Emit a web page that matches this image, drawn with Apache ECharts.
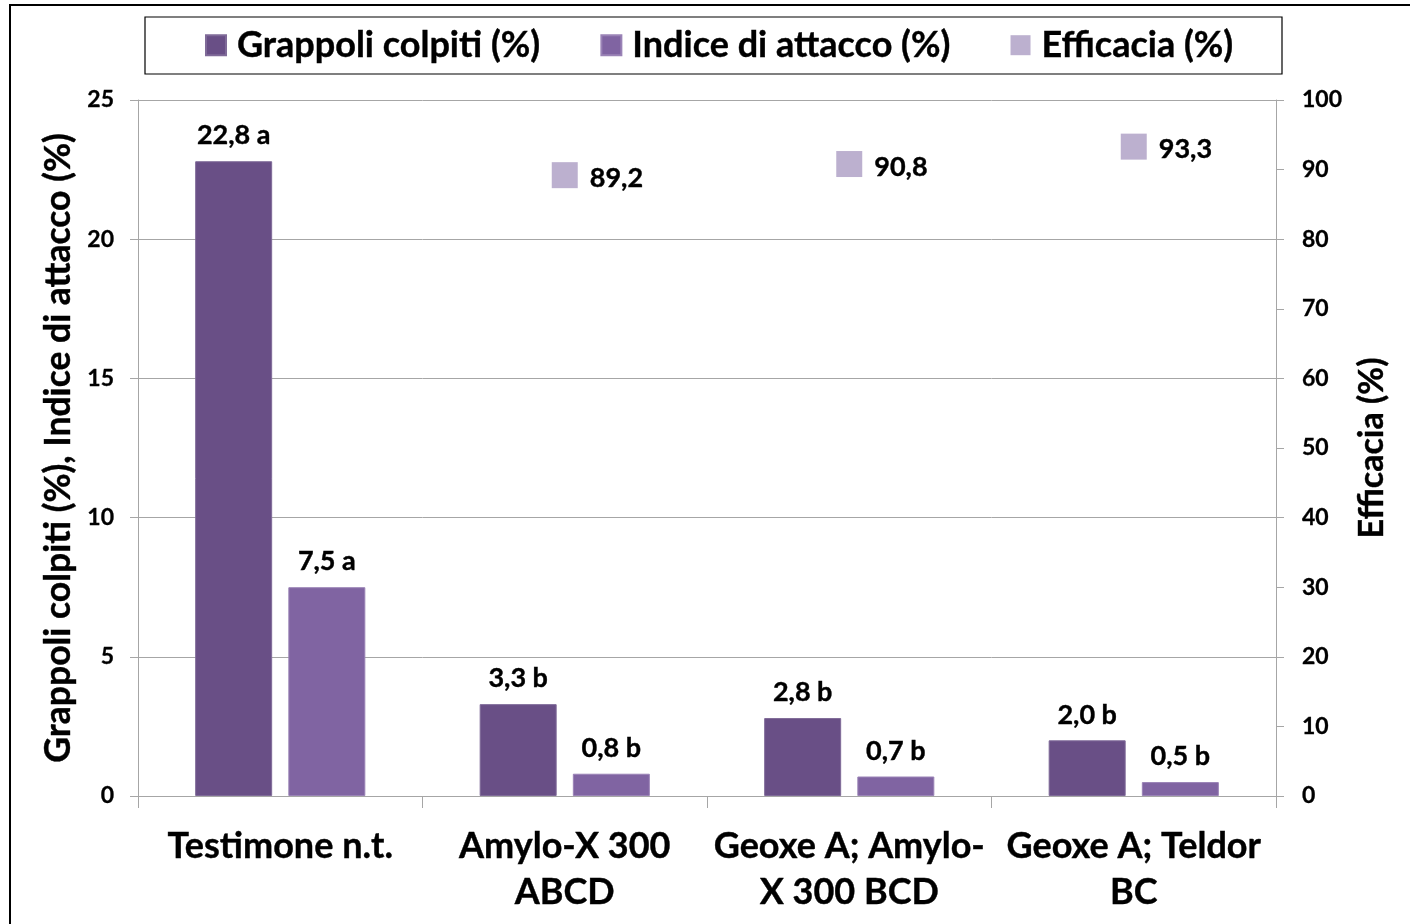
<!DOCTYPE html>
<html>
<head>
<meta charset="utf-8">
<script src="https://cdn.jsdelivr.net/npm/echarts@6/dist/echarts.min.js"></script>
<style>html,body{margin:0;padding:0;background:#fff;}#c{width:1410px;height:924px;}</style>
</head>
<body>
<div id="c"></div>
<script>
const categories = ['Testimone n.t.', 'Amylo-X 300\nABCD', 'Geoxe A; Amylo-\nX 300 BCD', 'Geoxe A; Teldor\nBC'];
const grappoli = [22.8, 3.3, 2.8, 2.0];
const grappoliLabels = ['22,8 a', '3,3 b', '2,8 b', '2,0 b'];
const indice = [7.5, 0.8, 0.7, 0.5];
const indiceLabels = ['7,5 a', '0,8 b', '0,7 b', '0,5 b'];
const efficacia = [null, 89.2, 90.8, 93.3];
const efficaciaLabels = ['', '89,2', '90,8', '93,3'];
const leftTicks = {min: 0, max: 25, interval: 5};
const rightTicks = {min: 0, max: 100, interval: 10};

const FONT = 'Lato';
const chart = echarts.init(document.getElementById('c'), null, {renderer: 'canvas'});
const grey = '#a6a6a6';
const bold = {fontFamily: FONT, fontWeight: 'bold', color: '#000', textBorderColor: '#000', textBorderWidth: 0.4};
chart.setOption({
  animation: false,
  backgroundColor: '#fff',
  textStyle: {fontFamily: FONT},
  graphic: [
    {type: 'rect', shape: {x: 10, y: 5, width: 1430, height: 950}, style: {fill: 'none', stroke: '#000', lineWidth: 2}, z: -1},
    {type: 'rect', shape: {x: 145, y: 17, width: 1137, height: 57}, style: {fill: 'none', stroke: '#000', lineWidth: 1.2}, z: -1}
  ],
  legend: {
    left: 200, top: 22,
    itemWidth: 20, itemHeight: 20, itemGap: 60,
    icon: 'rect',
    textStyle: Object.assign({}, bold, {fontSize: 36, padding: [0, 0, 0, 6]}),
    data: ['Grappoli colpiti (%)', 'Indice di attacco (%)', 'Efficacia (%)']
  },
  grid: {left: 138, right: 134, top: 100, bottom: 128},
  xAxis: {
    type: 'category', data: categories,
    axisLine: {lineStyle: {color: grey, width: 1}},
    axisTick: {show: true, length: 12, lineStyle: {color: grey}},
    axisLabel: Object.assign({}, bold, {fontSize: 36, margin: 27, lineHeight: 46, interval: 0})
  },
  yAxis: [
    {
      type: 'value', min: leftTicks.min, max: leftTicks.max, interval: leftTicks.interval,
      name: 'Grappoli colpiti (%), Indice di attacco (%)',
      nameLocation: 'middle', nameGap: 60, nameRotate: 90,
      nameTextStyle: Object.assign({}, bold, {fontSize: 35.5}),
      axisLine: {show: true, lineStyle: {color: grey}},
      axisTick: {show: true, length: 8, lineStyle: {color: grey}},
      splitLine: {show: true, lineStyle: {color: grey}},
      axisLabel: Object.assign({}, bold, {fontSize: 23, margin: 24, textBorderWidth: 0.3})
    },
    {
      type: 'value', min: rightTicks.min, max: rightTicks.max, interval: rightTicks.interval,
      name: 'Efficacia (%)',
      nameLocation: 'middle', nameGap: 79, nameRotate: 90,
      nameTextStyle: Object.assign({}, bold, {fontSize: 34}),
      axisLine: {show: true, lineStyle: {color: grey}},
      axisTick: {show: true, length: 8, lineStyle: {color: grey}},
      splitLine: {show: false},
      axisLabel: Object.assign({}, bold, {fontSize: 23, margin: 26, textBorderWidth: 0.3})
    }
  ],
  series: [
    {
      name: 'Grappoli colpiti (%)', type: 'bar', yAxisIndex: 0,
      data: grappoli, barWidth: 77, barGap: '21%',
      itemStyle: {color: '#694f86', borderColor: '#7f6a98', borderWidth: 1},
      label: Object.assign({}, bold, {show: true, position: 'top', distance: 12, fontSize: 27,
        formatter: p => grappoliLabels[p.dataIndex]})
    },
    {
      name: 'Indice di attacco (%)', type: 'bar', yAxisIndex: 0,
      data: indice, barWidth: 77,
      itemStyle: {color: '#8064a2', borderColor: '#9a83b6', borderWidth: 1},
      label: Object.assign({}, bold, {show: true, position: 'top', distance: 12, fontSize: 27,
        formatter: p => indiceLabels[p.dataIndex]})
    },
    {
      name: 'Efficacia (%)', type: 'line', yAxisIndex: 1,
      data: efficacia, symbol: 'rect', symbolSize: 26,
      lineStyle: {width: 0, opacity: 0},
      itemStyle: {color: '#bcb0cf'},
      label: Object.assign({}, bold, {show: true, position: 'right', distance: 12, fontSize: 27, offset: [0, 3],
        formatter: p => efficaciaLabels[p.dataIndex]})
    }
  ]
});
</script>
</body>
</html>
